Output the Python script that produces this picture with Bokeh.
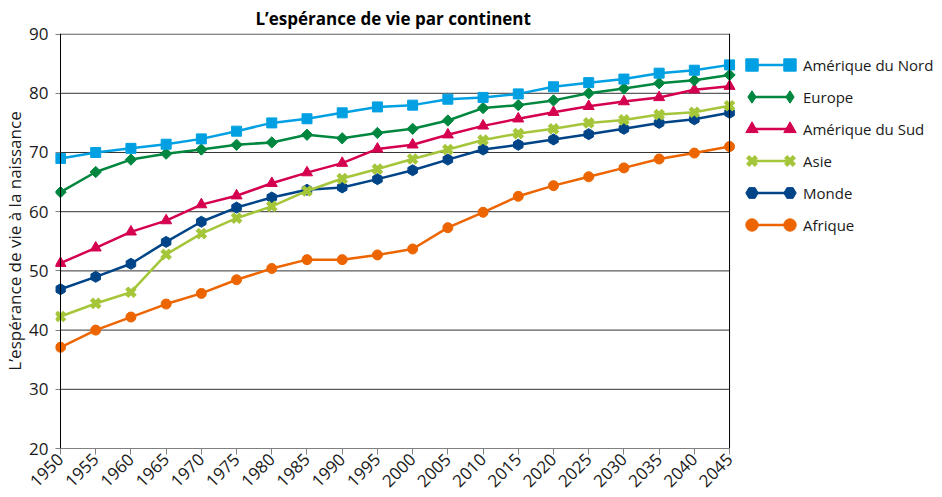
import math
from bokeh.plotting import figure
from bokeh.models import Range1d, FixedTicker, Span, Legend, LegendItem, CDSView, IndexFilter
from bokeh.embed import file_html
from bokeh.resources import INLINE

years = list(range(1950, 2050, 5))
amerique_nord = [69.0, 70.0, 70.7, 71.4, 72.3, 73.6, 75.0, 75.7, 76.7, 77.7, 78.0, 79.0, 79.3, 79.9, 81.1, 81.8, 82.4, 83.4, 83.9, 84.8]
europe = [63.3, 66.7, 68.8, 69.8, 70.5, 71.3, 71.7, 73.0, 72.4, 73.3, 74.0, 75.4, 77.5, 78.0, 78.8, 80.0, 80.8, 81.7, 82.2, 83.1]
amerique_sud = [51.3, 53.9, 56.6, 58.5, 61.2, 62.7, 64.8, 66.6, 68.2, 70.6, 71.3, 73.0, 74.5, 75.7, 76.8, 77.8, 78.6, 79.3, 80.6, 81.2]
asie = [42.3, 44.5, 46.4, 52.8, 56.3, 58.9, 60.9, 63.5, 65.6, 67.2, 68.9, 70.5, 72.1, 73.2, 74.0, 75.0, 75.5, 76.4, 76.8, 77.9]
monde = [46.9, 49.0, 51.2, 54.9, 58.3, 60.7, 62.4, 63.7, 64.1, 65.5, 67.0, 68.8, 70.5, 71.3, 72.2, 73.1, 74.0, 75.0, 75.6, 76.7]
afrique = [37.1, 40.0, 42.2, 44.4, 46.2, 48.5, 50.4, 51.9, 51.9, 52.7, 53.7, 57.3, 59.9, 62.6, 64.4, 65.9, 67.4, 68.9, 69.9, 71.0]
y_ticks = [20, 30, 40, 50, 60, 70, 80, 90]

names = ["Amérique du Nord", "Europe", "Amérique du Sud", "Asie", "Monde", "Afrique"]
values = [amerique_nord, europe, amerique_sud, asie, monde, afrique]
colors = ["#00A0E3", "#00873F", "#D5004F", "#A5C63A", "#004488", "#EC6500"]
markers = ["square", "square", "triangle", "x", "hex", "circle"]
legend_markers = ["square", "diamond", "triangle", "x", "hex", "circle"]
sizes = [10, 8, 11, 12, 11, 10]
angles = [0, math.pi / 4, 0, 0, math.pi / 2, 0]
mlw = [1, 1, 1, 4.5, 1, 1]
draw_order = [5, 4, 3, 2, 1, 0]

FONT = "Open Sans"

p = figure(frame_width=879, frame_height=415, output_backend="svg", toolbar_location=None,
           x_range=Range1d(years[0] - 0.71, years[-1] + 29.1),
           y_range=Range1d(y_ticks[0], y_ticks[-1] + 0.1),
           min_border_left=47, min_border_right=0, min_border_top=26, min_border_bottom=10,
           title="L’espérance de vie par continent")
p.outline_line_color = None
p.title.align = "left"
p.title.offset = 200
p.title.standoff = 8
p.title.text_font = FONT
p.title.text_font_size = "17px"
p.title.text_font_style = "bold"
p.title.text_color = "black"

p.xgrid.visible = False
p.ygrid.visible = False

# grid lines between first and last year
p.segment(x0=years[0], x1=years[-1], y0=y_ticks[1:], y1=y_ticks[1:], line_color="#333333", line_width=1)

p.xaxis.ticker = FixedTicker(ticks=years)
p.yaxis.ticker = FixedTicker(ticks=y_ticks)
p.xaxis.bounds = (years[0], years[-1])
p.xaxis.major_label_orientation = math.pi / 4
for ax in (p.xaxis, p.yaxis):
    ax.major_label_text_font = FONT
    ax.major_label_text_font_size = "17px"
    ax.major_label_text_color = "#1a1a1a"
    ax.minor_tick_line_color = None
p.xaxis.axis_line_color = "#808080"
p.xaxis.major_tick_line_color = "#808080"
p.xaxis.major_tick_in = 0
p.xaxis.major_tick_out = 6
p.xaxis.major_label_standoff = 2
p.yaxis.axis_line_color = None
p.yaxis.major_tick_line_color = "#808080"
p.yaxis.major_tick_out = 0
p.yaxis.major_tick_in = 5
p.yaxis.major_label_standoff = 7
p.yaxis.axis_label = "L’espérance de vie à la naissance"
p.yaxis.axis_label_text_font = FONT
p.yaxis.axis_label_text_font_size = "17px"
p.yaxis.axis_label_text_font_style = "normal"
p.yaxis.axis_label_text_color = "#1a1a1a"
p.yaxis.axis_label_standoff = 0

p.add_layout(Span(location=years[0], dimension="height", line_color="black", line_width=1))
p.add_layout(Span(location=years[-1], dimension="height", line_color="black", line_width=1))

line_r = {}
mark_r = {}
for i in draw_order:
    line_r[i] = p.line(years, values[i], line_color=colors[i], line_width=2.5)
    mark_r[i] = p.scatter(years, values[i], marker=markers[i], size=sizes[i], angle=angles[i],
                          fill_color=colors[i], line_color=colors[i], line_width=mlw[i])
    if markers[i] == "x":
        # filled centre of the star-like marker
        p.scatter(years, values[i], marker="square", size=5, fill_color=colors[i], line_color=colors[i])

# legend glyph where the legend shape differs: drawn only on the first point,
# where it is hidden inside the plotted marker of the same colour
legend_r = {}
for i in range(6):
    if legend_markers[i] != markers[i]:
        legend_r[i] = p.scatter(years, values[i], marker=legend_markers[i], size=sizes[i],
                                fill_color=colors[i], line_color=colors[i],
                                view=CDSView(filter=IndexFilter(indices=[0])))
    else:
        legend_r[i] = mark_r[i]

common = dict(padding=0, margin=0, spacing=1, glyph_height=31, border_line_alpha=0,
              background_fill_alpha=0, label_text_font=FONT, label_text_font_size="15px",
              label_text_color="#1a1a1a")
legA = Legend(items=[LegendItem(label=names[i], renderers=[line_r[i]]) for i in range(6)],
              location=(697, 208), glyph_width=38, label_standoff=13, **common)
legB = Legend(items=[LegendItem(label=" ", renderers=[legend_r[i]]) for i in range(6)],
              location=(681, 208), glyph_width=31, label_standoff=0, **common)
legC = Legend(items=[LegendItem(label=" ", renderers=[legend_r[i]]) for i in range(6)],
              location=(719, 208), glyph_width=31, label_standoff=0, **common)
p.add_layout(legA)
p.add_layout(legB)
p.add_layout(legC)

open("out.html", "w").write(file_html(p, INLINE))
